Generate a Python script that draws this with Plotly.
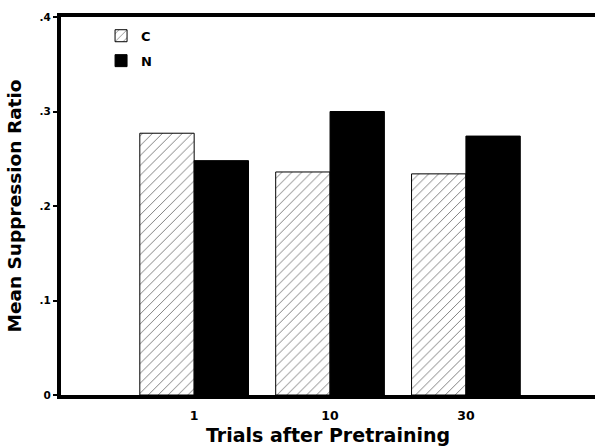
import plotly.graph_objects as go

categories = ["1", "10", "30"]
c_values = [0.277, 0.236, 0.234]
n_values = [0.248, 0.300, 0.274]
y_tickvals = [0, 0.1, 0.2, 0.3, 0.4]
y_ticktext = ["0", ".1", ".2", ".3", ".4"]

FONT = "DejaVu Sans, Arial, Helvetica, sans-serif"

fig = go.Figure()
fig.add_trace(go.Bar(
    x=categories, y=c_values, name="C", legendgroup="c",
    marker=dict(color="white", line=dict(color="black", width=1),
                pattern=dict(shape="/", fgcolor="black", bgcolor="white",
                             size=7, solidity=0.14)),
))
fig.add_trace(go.Bar(
    x=categories, y=n_values, name="N", legendgroup="n",
    marker=dict(color="black", line=dict(color="black", width=1)),
))

fig.update_layout(
    width=595, height=446,
    margin=dict(l=61, r=0, t=17, b=51, autoexpand=False),
    plot_bgcolor="white", paper_bgcolor="white",
    barmode="group", bargap=0.2, bargroupgap=0,
    font=dict(family=FONT, color="black"),
    showlegend=True,
    legend=dict(x=0.075, y=0.99, xanchor="left", yanchor="top",
                bgcolor="rgba(0,0,0,0)", font=dict(size=13, family=FONT, weight="bold"),
                tracegroupgap=5, itemwidth=30),
    xaxis=dict(
        type="category", range=[-0.98, 2.95],
        showline=True, linecolor="black", linewidth=4, mirror=True,
        ticks="outside", ticklen=6, tickcolor="rgba(0,0,0,0)",
        tickfont=dict(size=12.5, family=FONT, weight="bold"),
        title=dict(text="Trials after Pretraining", standoff=10,
                   font=dict(size=19, family=FONT, weight="bold")),
        showgrid=False, zeroline=False,
    ),
    yaxis=dict(
        range=[0, 0.4],
        tickvals=y_tickvals, ticktext=y_ticktext,
        showline=True, linecolor="black", linewidth=4,
        ticks="outside", ticklen=4, tickwidth=2, tickcolor="black",
        tickfont=dict(size=10.5, family=FONT, weight="bold"),
        title=dict(text="Mean Suppression Ratio", standoff=14,
                   font=dict(size=18.5, family=FONT, weight="bold")),
        showgrid=False, zeroline=False,
    ),
)

fig.write_html("out.html", config={"displayModeBar": False},
               post_script="document.body.style.margin='0';")
